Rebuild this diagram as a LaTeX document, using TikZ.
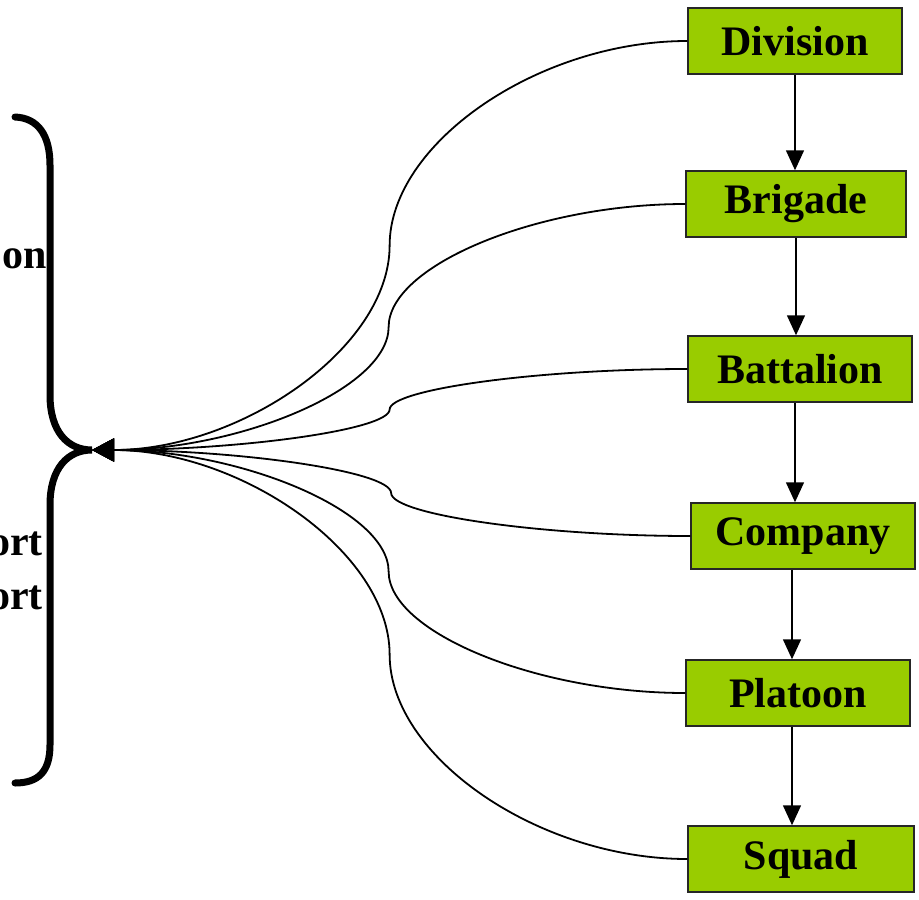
\documentclass[tikz,border=0pt]{standalone}
\usepackage		 {fontspec}
\setmainfont{Liberation Serif}
\usepackage		 {xcolor   }
\usepackage		 {tikz	  }
\usetikzlibrary{shapes,calc,positioning,arrows.meta}

\definecolor{rankgreen}{HTML}{99CC00}

\begin{document}
\begin{tikzpicture}[x=1pt,y=-1pt]
  \tikzset{ rank/.style={rectangle,draw=black!85,line width=1.5pt,fill=rankgreen,
      minimum height=66pt,inner sep=0pt,font=\fontsize{42}{50}\selectfont\bfseries},
    side/.style={inner sep=0pt,font=\fontsize{42}{50}\selectfont\bfseries},
    down/.style={-{Triangle[length=20pt,width=18pt]},line width=1.5pt},
    link/.style={-{Triangle[length=22pt,width=23pt]},line width=1.8pt},
    brace/.style={line width=7pt,line cap=round},
  }
  \useasboundingbox (0,0) rectangle (919,900);
  \node[rank,minimum width=214pt] (div)   at (795, 41)  {Division};
  \node[rank,minimum width=220pt] (brig)  at (796, 204) {Brigade};
  \node[rank,minimum width=224pt] (batt)  at (800, 369) {Battalion};
  \node[rank,minimum width=224pt] (comp)  at (803, 536) {Company};
  \node[rank,minimum width=224pt] (plat)  at (798, 693) {Platoon};
  \node[rank,minimum width=226pt] (squad) at (801, 859) {Squad};
  \coordinate (tip) at (92,450);

  \node[side,anchor=base east] (on)   at (47,268) {on};
  \node[side,anchor=base east] (ort1) at (43,555) {ort};
  \node[side,anchor=base east] (ort2) at (43,609) {ort};

  % chain of command
  \draw[down] (div.south)  -- (div.south |- brig.north);
  \draw[down] (brig.south) -- (brig.south |- batt.north);
  \draw[down] (batt.south -| div.south) -- (div.south |- comp.north);
  \draw[down] (comp.south -| 792,0) -- (792,0 |- plat.north);
  \draw[down] (plat.south -| 792,0) -- (792,0 |- squad.north);

  % curved connectors into the brace
  \foreach \r in {div,brig,batt,comp,plat,squad}
    \draw[link] let \p1=(\r.west), \p2=(tip) in
      (\p1) .. controls ({(3*\x1+\x2)/4},\y1) and ({(\x1+\x2)/2},{(3*\y1+\y2)/4})
      .. ({(\x1+\x2)/2},{(\y1+\y2)/2})
      .. controls ({(\x1+\x2)/2},{(\y1+3*\y2)/4}) and ({(\x1+3*\x2)/4},\y2) .. (\p2);

  % brace
  \draw[brace] (15,117) .. controls (38,118) and (50,135) .. (50,165) -- (50,395)
    .. controls (50,432) and (68,450) .. (tip)
    .. controls (68,450) and (50,468) .. (50,505) -- (50,745)
    .. controls (50,772) and (38,783) .. (15,783);
\end{tikzpicture}
\end{document}
